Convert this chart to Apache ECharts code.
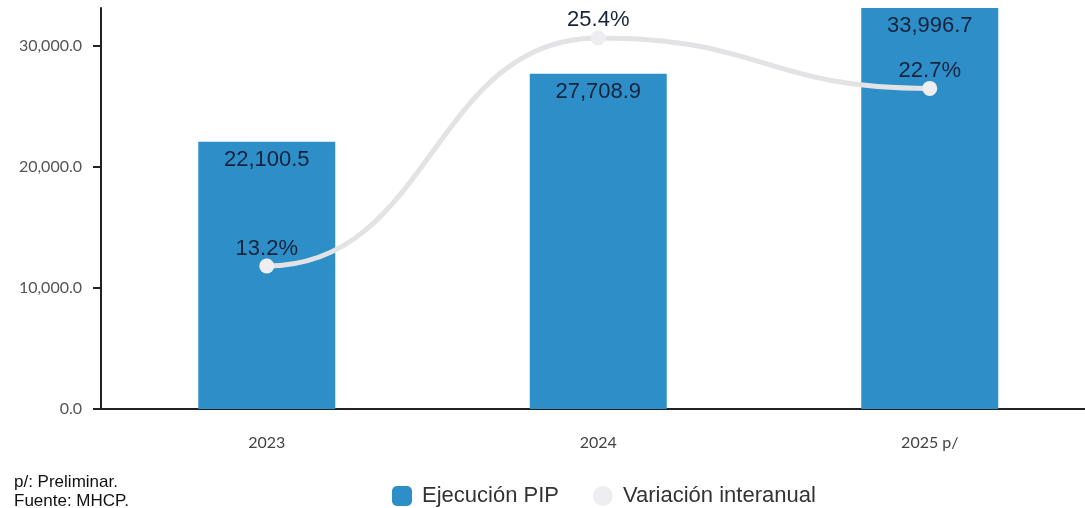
<!DOCTYPE html>
<html><head><meta charset="utf-8">
<script src="https://cdn.jsdelivr.net/npm/echarts@6/dist/echarts.min.js"></script>
<style>html,body{margin:0;padding:0;background:#fff;overflow:hidden;width:1085px;height:508px}#c{width:1100px;height:508px}
#note{position:absolute;left:14px;top:472px;font-family:"Liberation Sans",Arial,sans-serif;font-size:17px;line-height:19px;color:#111}</style>
</head><body>
<div id="c"></div>
<div id="note">p/: Preliminar.<br>Fuente: MHCP.</div>
<script>
const categories = ['2023', '2024', '2025 p/'];
const ejecucionPIP = [22100.5, 27708.9, 33996.7];
const variacion = [13.2, 25.4, 22.7];
const yTicks = [0, 10000, 20000, 30000];

const fmt = v => v.toLocaleString('en-US', {minimumFractionDigits: 1, maximumFractionDigits: 1});

const chart = echarts.init(document.getElementById('c'));
chart.setOption({
  animation: false,
  grid: {left: 101, right: 4.5, top: 8, bottom: 99, containLabel: false},
  legend: {
    top: 480, left: 387, itemGap: 34, itemWidth: 20, itemHeight: 20,
    textStyle: {fontFamily: 'Liberation Sans, Arial', fontSize: 22, color: '#333', padding: [0, 0, 0, 5]},
    data: [
      {name: 'Ejecución PIP', icon: 'roundRect'},
      {name: 'Variación interanual', icon: 'circle'}
    ]
  },
  xAxis: {
    type: 'category', data: categories,
    axisLine: {lineStyle: {color: '#222', width: 2}},
    axisTick: {alignWithLabel: true, length: 7, lineStyle: {color: '#222', width: 2}},
    axisLabel: {margin: 26, fontFamily: 'Lato', fontSize: 16, color: '#444'}
  },
  yAxis: [{
    type: 'value', min: 0, max: 33150,
    splitLine: {show: false},
    axisLine: {show: true, lineStyle: {color: '#222', width: 2}},
    axisTick: {show: true, length: 8, customValues: yTicks, lineStyle: {color: '#222', width: 2}},
    axisLabel: {customValues: yTicks, formatter: v => fmt(v), margin: 19, fontFamily: 'Lato', fontSize: 16, color: '#555'}
  }, {
    type: 'value', min: 5.55, max: 27, show: false, splitLine: {show: false}
  }],
  series: [{
    name: 'Ejecución PIP', type: 'bar', data: ejecucionPIP, barWidth: 137,
    itemStyle: {color: '#2e8fc8'},
    label: {show: true, position: 'insideTop', distance: 7, formatter: p => fmt(p.value),
      fontFamily: 'Liberation Sans, Arial', fontSize: 22, color: '#16233d'},
    z: 2
  }, {
    name: 'curve', type: 'custom', yAxisIndex: 1, data: variacion, z: 3, silent: true,
    renderItem: (params, api) => {
      const i = params.dataIndex;
      if (i >= variacion.length - 1) return null;
      const p0 = api.coord([i, variacion[i]]);
      const p1 = api.coord([i + 1, variacion[i + 1]]);
      const k = 0.5 * (p1[0] - p0[0]);
      return {
        type: 'bezierCurve',
        shape: {x1: p0[0], y1: p0[1], x2: p1[0], y2: p1[1],
                cpx1: p0[0] + k, cpy1: p0[1], cpx2: p1[0] - k, cpy2: p1[1]},
        style: {stroke: '#e3e3e6', lineWidth: 5, fill: null}
      };
    }
  }, {
    name: 'Variación interanual', type: 'line', yAxisIndex: 1, data: variacion,
    lineStyle: {color: '#e3e3e6', width: 0, opacity: 0},
    itemStyle: {color: '#eeeef0'},
    symbol: 'circle', symbolSize: 15,
    label: {show: true, position: 'top', distance: -1, formatter: p => p.value.toFixed(1) + '%',
      fontFamily: 'Liberation Sans, Arial', fontSize: 22, color: '#16233d'},
    z: 4
  }]
});
</script>
</body></html>
